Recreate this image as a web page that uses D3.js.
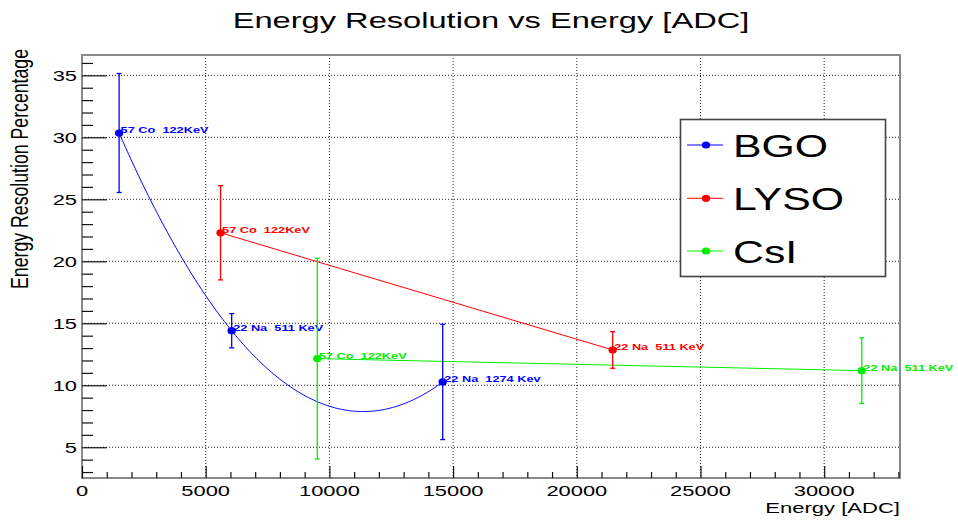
<!DOCTYPE html>
<html>
<head>
<meta charset="utf-8">
<script src="https://cdn.jsdelivr.net/npm/d3@7"></script>
<style>
  html, body { margin: 0; padding: 0; background: #fff; }
  svg { display: block; }
  text { font-family: "Liberation Sans", Arial, Helvetica, sans-serif; white-space: pre; }
</style>
</head>
<body>
<script>
// ---- data -------------------------------------------------------------
const seriesNames = ["BGO", "LYSO", "CsI"];
const seriesColors = ["#0000ff", "#ff0000", "#00ee00"];

const bgoEnergy = [1500, 6050, 14580];
const bgoRes = [30.35, 14.4, 10.27];
const bgoErr = [4.8, 1.38, 4.65];
const bgoLabels = ["57 Co  122KeV", "22 Na  511 KeV", "22 Na  1274 Kev"];

const lysoEnergy = [5600, 21450];
const lysoRes = [22.3, 12.85];
const lysoErr = [3.8, 1.48];
const lysoLabels = ["57 Co  122KeV", "22 Na  511 KeV"];

const csiEnergy = [9510, 31520];
const csiRes = [12.15, 11.18];
const csiErr = [8.1, 2.65];
const csiLabels = ["57 Co  122KeV", "22 Na  511 KeV"];

const xTickValues = [0, 5000, 10000, 15000, 20000, 25000, 30000];
const yTickValues = [5, 10, 15, 20, 25, 30, 35];
const xLimits = [0, 33064];
const yLimits = [2.52, 36.64];

const titleText = "Energy Resolution vs Energy [ADC]";
const xTitle = "Energy [ADC]";
const yTitle = "Energy Resolution Percentage";

// ---- layout -----------------------------------------------------------
const W = 958, H = 521;
const frame = { left: 82, right: 900, top: 55, bottom: 478 };

const svg = d3.select("body").append("svg")
  .attr("width", W).attr("height", H);

const x = d3.scaleLinear().domain(xLimits).range([frame.left, frame.right]);
const y = d3.scaleLinear().domain(yLimits).range([frame.bottom, frame.top]);

// horizontally widened text, as rendered on the canvas
function wideText(g, str, px, py, size, sx, opts = {}) {
  return g.append("text")
    .attr("transform", `translate(${px},${py}) scale(${sx},1)`)
    .attr("text-anchor", opts.anchor || "start")
    .attr("font-size", size)
    .attr("font-weight", opts.weight || "normal")
    .attr("fill", opts.fill || "#000")
    .text(str);
}

// ---- grid -------------------------------------------------------------
const grid = svg.append("g");
grid.selectAll("line.gx").data(xTickValues.filter(v => v > 0)).join("line")
  .attr("x1", d => x(d)).attr("x2", d => x(d))
  .attr("y1", frame.top).attr("y2", frame.bottom)
  .attr("stroke", "#222").attr("stroke-width", 1).attr("stroke-dasharray", "1,2");
grid.selectAll("line.gy").data(yTickValues).join("line")
  .attr("x1", frame.left).attr("x2", frame.right)
  .attr("y1", d => y(d)).attr("y2", d => y(d))
  .attr("stroke", "#222").attr("stroke-width", 1).attr("stroke-dasharray", "1,2");

// ---- frame & axes -----------------------------------------------------
svg.append("rect")
  .attr("x", frame.left).attr("y", frame.top)
  .attr("width", frame.right - frame.left).attr("height", frame.bottom - frame.top)
  .attr("fill", "none").attr("stroke", "#8a8a8a").attr("stroke-width", 2);

const xMinor = d3.range(0, xLimits[1], 1000).filter(v => v % 5000 !== 0);
const yMinor = d3.range(3, yLimits[1], 1).filter(v => v % 5 !== 0);

const xAxisMajor = d3.axisBottom(x).tickValues(xTickValues).tickSize(-12).tickFormat(() => "");
const xAxisMinor = d3.axisBottom(x).tickValues(xMinor).tickSize(-6).tickFormat(() => "");
const yAxisMajor = d3.axisLeft(y).tickValues(yTickValues).tickSize(-25).tickFormat(() => "");
const yAxisMinor = d3.axisLeft(y).tickValues(yMinor).tickSize(-11).tickFormat(() => "");

[xAxisMajor, xAxisMinor].forEach(ax => {
  const g = svg.append("g").attr("transform", `translate(0,${frame.bottom})`).call(ax);
  g.select(".domain").remove();
  g.selectAll(".tick line").attr("stroke", "#111").attr("stroke-width", 1.2);
});
[yAxisMajor, yAxisMinor].forEach(ax => {
  const g = svg.append("g").attr("transform", `translate(${frame.left},0)`).call(ax);
  g.select(".domain").remove();
  g.selectAll(".tick line").attr("stroke", "#111").attr("stroke-width", 1.2);
});

// tick labels
const labels = svg.append("g");
xTickValues.forEach(v => wideText(labels, String(v), x(v), 496, 15, 1.46, { anchor: "middle" }));
yTickValues.forEach(v => wideText(labels, String(v), 77, y(v) + 5.5, 15, 1.46, { anchor: "end" }));

// titles
wideText(svg, titleText, 491, 28, 22.5, 1.45, { anchor: "middle" });
wideText(svg, xTitle, frame.right, 513, 15, 1.47, { anchor: "end" });
svg.append("text")
  .attr("transform", `translate(28,49) scale(1.3,1) rotate(-90)`)
  .attr("text-anchor", "end").attr("font-size", 17.7).text(yTitle);

// ---- series -----------------------------------------------------------
const plot = svg.append("g");

function pts(xs, ys, es, ls) {
  return xs.map((v, i) => ({ x: v, y: ys[i], e: es[i], label: ls[i] }));
}
const series = [
  pts(bgoEnergy, bgoRes, bgoErr, bgoLabels),
  pts(lysoEnergy, lysoRes, lysoErr, lysoLabels),
  pts(csiEnergy, csiRes, csiErr, csiLabels)
];

// BGO: second-order polynomial fit through its three points
function quadFit(xs, ys) {
  return t => {
    let s = 0;
    for (let i = 0; i < 3; i++) {
      let term = ys[i];
      for (let j = 0; j < 3; j++) if (j !== i) term *= (t - xs[j]) / (xs[i] - xs[j]);
      s += term;
    }
    return s;
  };
}
const bgoFit = quadFit(bgoEnergy, bgoRes);
const fitXs = d3.range(0, 201).map(i => bgoEnergy[0] + (bgoEnergy[2] - bgoEnergy[0]) * i / 200);
const line = d3.line().x(d => x(d[0])).y(d => y(d[1]));

plot.append("path")
  .datum(fitXs.map(t => [t, bgoFit(t)]))
  .attr("d", line).attr("fill", "none")
  .attr("stroke", seriesColors[0]).attr("stroke-width", 1);

[1, 2].forEach(k => {
  plot.append("path")
    .datum(series[k].map(p => [p.x, p.y]))
    .attr("d", line).attr("fill", "none")
    .attr("stroke", seriesColors[k]).attr("stroke-width", 1);
});

series.forEach((s, k) => {
  const c = seriesColors[k];
  const g = plot.append("g");
  s.forEach(p => {
    const cx = x(p.x);
    g.append("line").attr("x1", cx).attr("x2", cx)
      .attr("y1", y(p.y - p.e)).attr("y2", y(p.y + p.e))
      .attr("stroke", c).attr("stroke-width", 1.3);
    [p.y - p.e, p.y + p.e].forEach(v => {
      g.append("line").attr("x1", cx - 2.5).attr("x2", cx + 2.5)
        .attr("y1", y(v)).attr("y2", y(v))
        .attr("stroke", c).attr("stroke-width", 1.3);
    });
    g.append("ellipse").attr("cx", cx).attr("cy", y(p.y))
      .attr("rx", 4.2).attr("ry", 3.6).attr("fill", c);
    wideText(g, p.label, cx + 1.5, y(p.y) + 0.5, 9.6, 1.33, { weight: "bold", fill: c });
  });
});

// ---- legend -----------------------------------------------------------
const leg = svg.append("g");
leg.append("rect").attr("x", 680.5).attr("y", 119.5).attr("width", 205).attr("height", 157)
  .attr("fill", "#fff").attr("stroke", "#444").attr("stroke-width", 1.6);
const rowY = [145, 198.3, 251];
seriesNames.forEach((name, k) => {
  leg.append("line").attr("x1", 687).attr("x2", 723)
    .attr("y1", rowY[k]).attr("y2", rowY[k])
    .attr("stroke", seriesColors[k]).attr("stroke-width", 1);
  leg.append("ellipse").attr("cx", 706).attr("cy", rowY[k])
    .attr("rx", 4.2).attr("ry", 3.6).attr("fill", seriesColors[k]);
  wideText(leg, name, 733, rowY[k] + 11.5, 31, 1.38);
});
</script>
</body>
</html>
